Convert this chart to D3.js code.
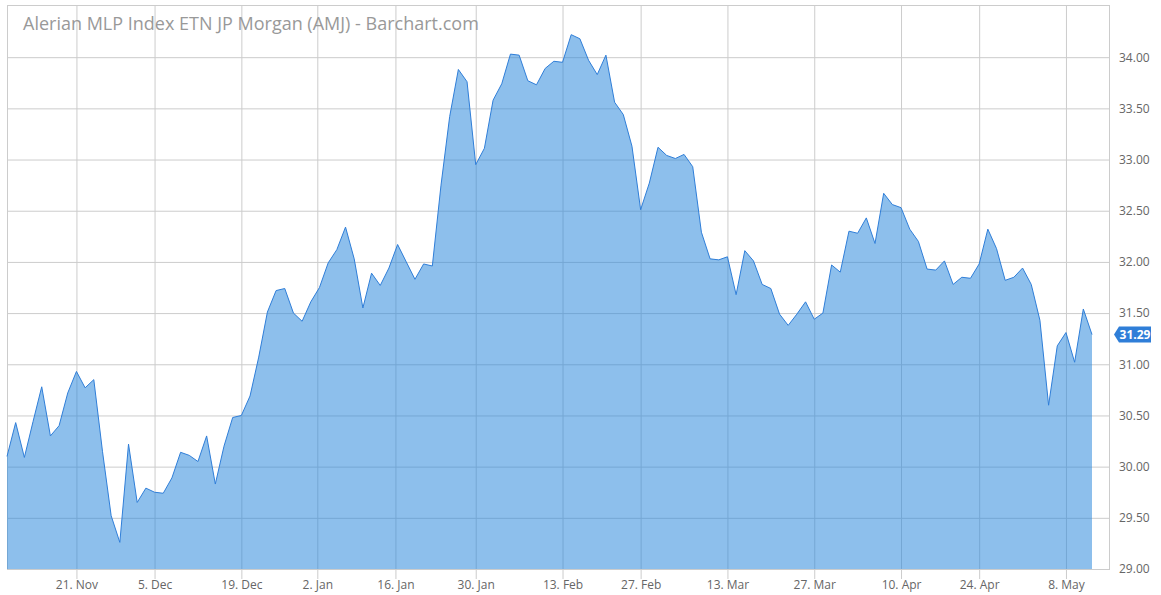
<!DOCTYPE html>
<html>
<head>
<meta charset="utf-8">
<script src="https://cdn.jsdelivr.net/npm/d3@7"></script>
<style>
  body { margin: 0; background: #fff; }
  svg { display: block; font-family: "Open Sans", sans-serif; }
</style>
</head>
<body>
<svg id="chart" width="1161" height="595"></svg>
<script>
// trading days, 9 Nov 2016 .. 11 May 2017
var dates = [
    "2016-11-09","2016-11-10","2016-11-11","2016-11-14","2016-11-15","2016-11-16","2016-11-17","2016-11-18",
    "2016-11-21","2016-11-22","2016-11-23","2016-11-25","2016-11-28","2016-11-29","2016-11-30",
    "2016-12-01","2016-12-02","2016-12-05","2016-12-06","2016-12-07","2016-12-08","2016-12-09",
    "2016-12-12","2016-12-13","2016-12-14","2016-12-15","2016-12-16","2016-12-19","2016-12-20",
    "2016-12-21","2016-12-22","2016-12-23","2016-12-27","2016-12-28","2016-12-29","2016-12-30",
    "2017-01-03","2017-01-04","2017-01-05","2017-01-06","2017-01-09","2017-01-10","2017-01-11",
    "2017-01-12","2017-01-13","2017-01-17","2017-01-18","2017-01-19","2017-01-20","2017-01-23",
    "2017-01-24","2017-01-25","2017-01-26","2017-01-27","2017-01-30","2017-01-31","2017-02-01",
    "2017-02-02","2017-02-03","2017-02-06","2017-02-07","2017-02-08","2017-02-09","2017-02-10",
    "2017-02-13","2017-02-14","2017-02-15","2017-02-16","2017-02-17","2017-02-21","2017-02-22",
    "2017-02-23","2017-02-24","2017-02-27","2017-02-28","2017-03-01","2017-03-02","2017-03-03",
    "2017-03-06","2017-03-07","2017-03-08","2017-03-09","2017-03-10","2017-03-13","2017-03-14",
    "2017-03-15","2017-03-16","2017-03-17","2017-03-20","2017-03-21","2017-03-22","2017-03-23",
    "2017-03-24","2017-03-27","2017-03-28","2017-03-29","2017-03-30","2017-03-31","2017-04-03",
    "2017-04-04","2017-04-05","2017-04-06","2017-04-07","2017-04-10","2017-04-11","2017-04-12",
    "2017-04-13","2017-04-17","2017-04-18","2017-04-19","2017-04-20","2017-04-21","2017-04-24",
    "2017-04-25","2017-04-26","2017-04-27","2017-04-28","2017-05-01","2017-05-02","2017-05-03",
    "2017-05-04","2017-05-05","2017-05-08","2017-05-09","2017-05-10","2017-05-11"
];

// closing prices
var closes = [
    30.10, 30.43, 30.09, 30.44, 30.78, 30.30, 30.40, 30.72, 30.93, 30.77,
    30.85, 30.15, 29.52, 29.26, 30.22, 29.65, 29.79, 29.75, 29.74, 29.89,
    30.14, 30.11, 30.05, 30.30, 29.83, 30.20, 30.48, 30.50, 30.69, 31.07,
    31.51, 31.72, 31.74, 31.50, 31.42, 31.61, 31.75, 31.99, 32.12, 32.34,
    32.03, 31.55, 31.89, 31.77, 31.94, 32.17, 32.00, 31.83, 31.98, 31.96,
    32.75, 33.42, 33.88, 33.76, 32.95, 33.11, 33.58, 33.74, 34.03, 34.02,
    33.77, 33.73, 33.89, 33.96, 33.95, 34.22, 34.18, 33.97, 33.83, 34.02,
    33.56, 33.44, 33.13, 32.51, 32.77, 33.12, 33.04, 33.01, 33.05, 32.93,
    32.29, 32.03, 32.02, 32.05, 31.68, 32.11, 32.01, 31.78, 31.74, 31.49,
    31.38, 31.49, 31.61, 31.44, 31.50, 31.97, 31.90, 32.30, 32.28, 32.43,
    32.18, 32.67, 32.56, 32.53, 32.32, 32.20, 31.93, 31.92, 32.01, 31.78,
    31.85, 31.84, 31.98, 32.32, 32.13, 31.82, 31.85, 31.94, 31.78, 31.43,
    30.60, 31.18, 31.31, 31.02, 31.54, 31.29
];

var xTickDates = ["2016-11-21","2016-12-05","2016-12-19","2017-01-02","2017-01-16","2017-01-30",
    "2017-02-13","2017-02-27","2017-03-13","2017-03-27","2017-04-10","2017-04-24","2017-05-08"];
var yTicks = [29, 29.5, 30, 30.5, 31, 31.5, 32, 32.5, 33, 33.5, 34];

var title = "Alerian MLP Index ETN JP Morgan (AMJ) - Barchart.com";

var parse = d3.timeParse("%Y-%m-%d");
var data = dates.map(function (d, i) { return { date: parse(d), i: i, v: closes[i] }; });

// plot box (note: "top" is taken by window.top)
var plotLeft = 7, plotRight = 1109, plotTop = 5, plotBottom = 569;
var svg = d3.select("#chart");

// ordinal x: every trading day gets the same width
var xi = d3.scaleLinear().domain([0, data.length - 1]).range([plotLeft, 1092]);
// piecewise time scale so non-trading tick dates land between their neighbours
var xt = d3.scaleTime()
    .domain(data.map(function (d) { return d.date; }))
    .range(data.map(function (d) { return xi(d.i); }));
var y = d3.scaleLinear().domain([29, 34.5]).range([plotBottom, plotTop + 1]);

var gridColor = "#cccccc";

// horizontal grid
svg.append("g")
    .attr("transform", "translate(" + plotLeft + ",0)")
    .call(d3.axisLeft(y).tickValues(yTicks).tickSize(-(plotRight - plotLeft)).tickFormat(""))
    .call(function (g) { g.select(".domain").remove(); })
    .selectAll("line").attr("stroke", gridColor);

// vertical grid + bottom ticks
svg.append("g")
    .attr("transform", "translate(0," + plotBottom + ")")
    .call(d3.axisBottom(xt)
        .tickValues(xTickDates.map(parse))
        .tickSize(10)
        .tickPadding(1)
        .tickFormat(d3.timeFormat("%-d. %b")))
    .call(function (g) {
        g.select(".domain").remove();
        g.selectAll("line").attr("stroke", gridColor).attr("y1", -(plotBottom - plotTop));
        g.selectAll("text").attr("fill", "#666").style("font-size", "12px").style("font-family", "Open Sans");
    });

// plot frame
svg.append("rect")
    .attr("x", plotLeft + 0.5).attr("y", plotTop + 0.5)
    .attr("width", plotRight - plotLeft).attr("height", plotBottom - plotTop)
    .attr("fill", "none").attr("stroke", gridColor);

// area + line
var area = d3.area()
    .x(function (d) { return xi(d.i); })
    .y0(plotBottom)
    .y1(function (d) { return y(d.v); });
var line = d3.line()
    .x(function (d) { return xi(d.i); })
    .y(function (d) { return y(d.v); });

svg.append("path").datum(data)
    .attr("d", area)
    .attr("fill", "rgb(40,135,220)")
    .attr("fill-opacity", 0.53);

svg.append("path").datum(data)
    .attr("d", line)
    .attr("fill", "none")
    .attr("stroke", "#2f7ed8")
    .attr("stroke-width", 1)
    .attr("stroke-linejoin", "round");

// right price axis
svg.append("g")
    .attr("transform", "translate(" + plotRight + ",0)")
    .call(d3.axisRight(y).tickValues(yTicks).tickSize(0).tickPadding(10).tickFormat(d3.format(".2f")))
    .call(function (g) {
        g.select(".domain").remove();
        g.selectAll("text").attr("fill", "#666").style("font-size", "12px").style("font-family", "Open Sans");
    });

// last price badge
var last = data[data.length - 1];
var by = y(last.v);
svg.append("path")
    .attr("d", "M1114," + by + " L1119," + (by - 8) + " L1151," + (by - 8) +
        " L1151," + (by + 8) + " L1119," + (by + 8) + " Z")
    .attr("fill", "#2f7ed8");
svg.append("text")
    .attr("x", 1135).attr("y", by)
    .attr("dy", "0.35em")
    .attr("text-anchor", "middle")
    .attr("fill", "#fff")
    .style("font-size", "12px")
    .style("font-weight", "bold")
    .text(d3.format(".2f")(last.v));

// title
svg.append("text")
    .attr("x", 23).attr("y", 30)
    .attr("fill", "#999")
    .style("font-size", "18px")
    .text(title);
</script>
</body>
</html>
